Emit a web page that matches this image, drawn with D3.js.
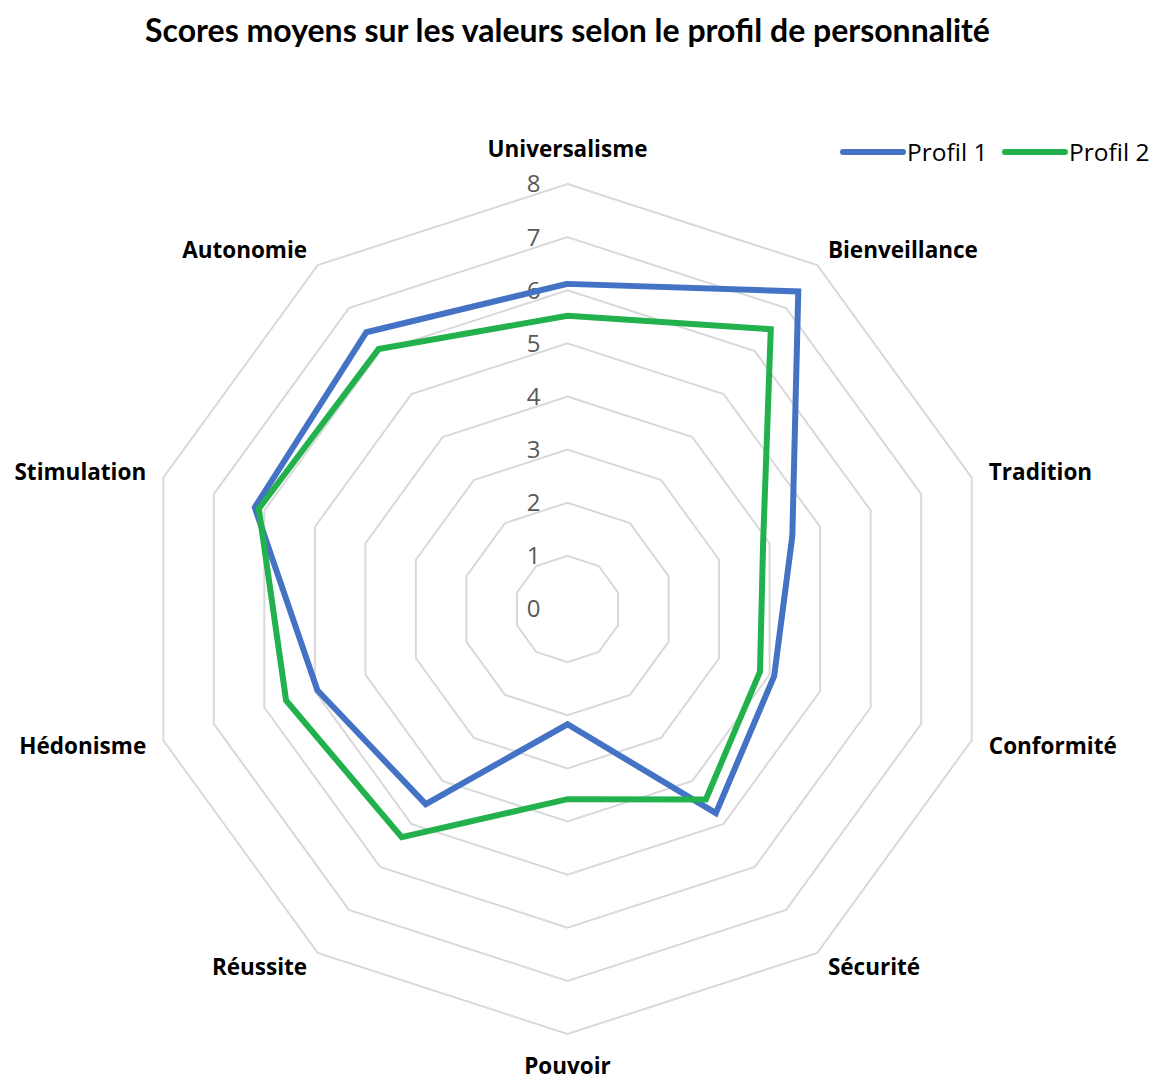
<!DOCTYPE html>
<html>
<head>
<meta charset="utf-8">
<script src="https://cdn.jsdelivr.net/npm/d3@7"></script>
<style>
  body { margin: 0; background: #fff; }
  text { font-family: "Open Sans", Lato, sans-serif; }
</style>
</head>
<body>
<svg id="radar"></svg>
<script>
// Categories, clockwise from the top
const categories = ['Universalisme', 'Bienveillance', 'Tradition', 'Conformité', 'Sécurité',
                    'Pouvoir', 'Réussite', 'Hédonisme', 'Stimulation', 'Autonomie'];
const profil1 = [6.12, 7.39, 4.45, 4.09, 4.75, 2.17, 4.54, 4.95, 6.19, 6.44];
const profil2 = [5.52, 6.51, 3.87, 3.81, 4.43, 3.58, 5.31, 5.57, 6.11, 6.05];
const ticks = [0, 1, 2, 3, 4, 5, 6, 7, 8];
const seriesNames = ['Profil 1', 'Profil 2'];
const colors = ['#4472C4', '#22B14C'];

const width = 1152, height = 1080;
const cx = 567.5, cy = 609, R = 425;

const svg = d3.select('#radar')
    .attr('width', width)
    .attr('height', height);

// radial scale and angle for each category
let r = d3.scaleLinear().domain([0, 8]).range([0, R]);
let angle = d3.scalePoint().domain(categories).range([0, 2 * Math.PI * (categories.length - 1) / categories.length]);

const g = svg.append('g').attr('transform', 'translate(' + cx + ',' + cy + ')');

// decagon grid
let gridLine = d3.lineRadial()
    .angle(d => angle(d))
    .curve(d3.curveLinearClosed);

g.selectAll('.grid')
    .data(ticks.slice(1))
    .enter().append('path')
    .attr('class', 'grid')
    .attr('fill', 'none')
    .attr('stroke', '#D9D9D9')
    .attr('stroke-width', 2)
    .attr('d', t => gridLine.radius(r(t))(categories));

// tick labels along the top axis
g.selectAll('.tick')
    .data(ticks)
    .enter().append('text')
    .attr('x', -34)
    .attr('y', t => -r(t))
    .attr('dy', '0.35em')
    .attr('text-anchor', 'middle')
    .attr('font-size', 24)
    .attr('fill', '#595959')
    .text(t => t);

// series lines
const series = [profil1, profil2];
let line = d3.lineRadial()
    .angle((d, i) => angle(categories[i]))
    .radius(d => r(d))
    .curve(d3.curveLinearClosed);

g.selectAll('.series')
    .data(series)
    .enter().append('path')
    .attr('fill', 'none')
    .attr('stroke', (d, i) => colors[i])
    .attr('stroke-width', 6)
    .attr('stroke-linejoin', 'miter')
    .attr('d', d => line(d));

// category labels
g.selectAll('.cat')
    .data(categories)
    .enter().append('text')
    .attr('x', d => {
        let a = angle(d);
        return Math.sin(a) * (R + 18);
    })
    .attr('y', d => {
        let a = angle(d);
        let c = Math.cos(a);
        let s = Math.abs(Math.sin(a)) < 0.01 ? (c > 0 ? 35 : 32) : 18;
        return -c * (R + s);
    })
    .attr('dy', '0.35em')
    .attr('text-anchor', d => {
        let s = Math.sin(angle(d));
        return Math.abs(s) < 0.01 ? 'middle' : (s > 0 ? 'start' : 'end');
    })
    .attr('font-size', 22.5)
    .attr('font-weight', 'bold')
    .attr('fill', '#000')
    .text(d => d);

// title
svg.append('text')
    .attr('x', cx)
    .attr('y', 31)
    .attr('dy', '0.35em')
    .attr('text-anchor', 'middle')
    .attr('font-size', 32)
    .attr('font-weight', 'bold')
    .attr('fill', '#000')
    .style('font-family', 'Lato, sans-serif')
    .text('Scores moyens sur les valeurs selon le profil de personnalité');

// legend
const legend = svg.append('g').attr('transform', 'translate(840,152)');
const lx = [0, 162];
seriesNames.forEach((name, i) => {
    legend.append('line')
        .attr('x1', lx[i] + 3).attr('x2', lx[i] + 63)
        .attr('y1', 0).attr('y2', 0)
        .attr('stroke', colors[i])
        .attr('stroke-width', 6)
        .attr('stroke-linecap', 'round');
    legend.append('text')
        .attr('x', lx[i] + 67)
        .attr('y', 0)
        .attr('dy', '0.35em')
        .attr('font-size', 24.5)
        .attr('fill', '#000')
        .text(name);
});
</script>
</body>
</html>
